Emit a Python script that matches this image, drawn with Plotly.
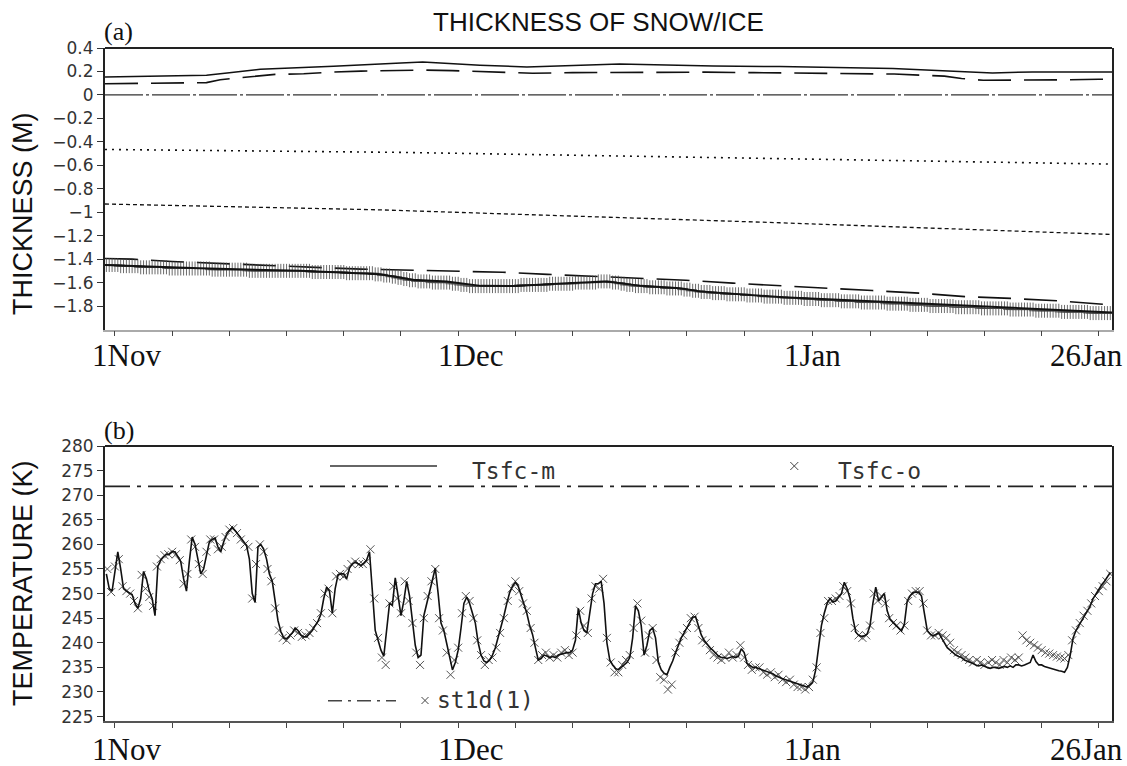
import plotly.graph_objects as go

# ---------------- data (x = days since 1 Nov) ----------------
TICK_MAJOR_DAYS = [0, 30, 61, 86]
TICK_MAJOR_TEXT = ["1Nov", "1Dec", "1Jan", "26Jan"]
TICK_MINOR_DAYS = [5, 10, 15, 20, 25, 35, 40, 45, 50, 55, 66, 71, 76, 81]
X_RANGE = [-0.87, 87.15]

TOP_YTICKS = [0.4, 0.2, 0, -0.2, -0.4, -0.6, -0.8, -1, -1.2, -1.4, -1.6, -1.8]
TOP_YTEXT = ["0.4", "0.2", "0", "\u22120.2", "\u22120.4", "\u22120.6", "\u22120.8",
             "\u22121", "\u22121.2", "\u22121.4", "\u22121.6", "\u22121.8"]
BOT_YTICKS = [225, 230, 235, 240, 245, 250, 255, 260, 265, 270, 275, 280]

# panel (a): snow / ice thickness lines
snow_m_day = [-0.87, 8.0, 10.0, 12.7, 19.1, 23.2, 25.0, 26.9, 31.9, 36.0, 44.1, 52.3, 58.1, 68.0, 71.5, 76.7, 80.2, 87.15]
snow_m_val = [0.153, 0.168, 0.19, 0.219, 0.245, 0.26, 0.272, 0.281, 0.253, 0.238, 0.264, 0.247, 0.242, 0.225, 0.21, 0.187, 0.196, 0.196]

snow_o_day = [-0.87, 3.0, 6.0, 8.0, 9.2, 12.0, 14.0, 16.5, 19.0, 21.5, 24.5, 27.0, 29.5, 32.5, 36.5, 40.0, 44.5, 48.0, 51.6, 55.8, 59.9, 64.0, 68.1, 72.5, 74.0, 75.9, 78.0, 82.2, 86.0, 87.15]
snow_o_val = [0.095, 0.097, 0.10, 0.105, 0.13, 0.16, 0.175, 0.18, 0.195, 0.203, 0.21, 0.212, 0.207, 0.197, 0.185, 0.19, 0.194, 0.193, 0.194, 0.19, 0.187, 0.184, 0.178, 0.16, 0.14, 0.125, 0.125, 0.128, 0.133, 0.133]

ice_top_day = [-0.87, 87.15]
ice_top_val = [0.0, 0.0]

dotted_day = [-0.87, 25.0, 87.15]
dotted_val = [-0.465, -0.49, -0.59]

shortdash_day = [-0.87, 23.2, 58.1, 87.15]
shortdash_val = [-0.93, -0.98, -1.09, -1.19]

bot_o_day = [-0.87, 1.5, 5.0, 9.5, 13.5, 17.5, 21.5, 25.5, 29.8, 33.9, 37.8, 41.8, 45.8, 49.9, 54.0, 58.1, 62.1, 66.2, 70.3, 74.3, 78.3, 82.4, 86.4, 87.15]
bot_o_val = [-1.395, -1.40, -1.42, -1.44, -1.455, -1.47, -1.485, -1.495, -1.50, -1.512, -1.53, -1.545, -1.565, -1.58, -1.605, -1.628, -1.65, -1.668, -1.69, -1.72, -1.735, -1.755, -1.785, -1.79]

bot_m_day = [-0.87, 7.4, 16.2, 22.0, 23.2, 26.0, 29.0, 32.0, 35.0, 39.5, 43.0, 46.0, 49.4, 51.1, 55.2, 58.4, 68.6, 77.4, 87.15]
bot_m_val = [-1.45, -1.478, -1.50, -1.52, -1.53, -1.575, -1.59, -1.628, -1.63, -1.605, -1.59, -1.628, -1.648, -1.675, -1.705, -1.725, -1.77, -1.813, -1.855]

# 6-hourly series start day
T6_START = -0.75
ice_plus = [
    -1.45, -1.45, -1.45,
    -1.45, -1.45, -1.46, -1.46,  -1.46, -1.46, -1.46, -1.46,  -1.46, -1.47, -1.47, -1.47,
    -1.47, -1.47, -1.47, -1.47,  -1.47, -1.47, -1.47, -1.48,  -1.48, -1.48, -1.48, -1.48,
    -1.48, -1.48, -1.48, -1.48,  -1.48, -1.48, -1.48, -1.48,  -1.48, -1.48, -1.49, -1.49,
    -1.49, -1.49, -1.49, -1.49,  -1.49, -1.49, -1.49, -1.49,  -1.49, -1.49, -1.49, -1.50,
    -1.50, -1.50, -1.50, -1.50,  -1.50, -1.50, -1.50, -1.50,  -1.50, -1.50, -1.50, -1.50,
    -1.50, -1.50, -1.50, -1.50,  -1.50, -1.50, -1.50, -1.50,  -1.50, -1.51, -1.51, -1.51,
    -1.51, -1.51, -1.51, -1.51,  -1.51, -1.51, -1.51, -1.51,  -1.51, -1.52, -1.52, -1.52,
    -1.52, -1.52, -1.52, -1.52,  -1.52, -1.52, -1.52, -1.53,  -1.53, -1.53, -1.54, -1.54,
    -1.54, -1.55, -1.55, -1.56,  -1.56, -1.57, -1.57, -1.58,  -1.58, -1.58, -1.59, -1.59,
    -1.59, -1.59, -1.59, -1.60,  -1.60, -1.60, -1.60, -1.60,  -1.60, -1.60, -1.61, -1.61,
    -1.61, -1.62, -1.62, -1.62,  -1.63, -1.63, -1.63, -1.63,  -1.63, -1.63, -1.63, -1.63,
    -1.63, -1.63, -1.63, -1.63,  -1.63, -1.63, -1.63, -1.63,  -1.63, -1.63, -1.62, -1.62,
    -1.62, -1.62, -1.62, -1.62,  -1.62, -1.62, -1.62, -1.62,  -1.61, -1.61, -1.61, -1.61,
    -1.61, -1.61, -1.61, -1.61,  -1.61, -1.60, -1.60, -1.60,  -1.60, -1.60, -1.60, -1.60,
    -1.60, -1.59, -1.59, -1.59,  -1.59, -1.59, -1.60, -1.60,  -1.60, -1.61, -1.61, -1.62,
    -1.62, -1.62, -1.63, -1.63,  -1.63, -1.63, -1.63, -1.64,  -1.64, -1.64, -1.64, -1.64,
    -1.64, -1.65, -1.65, -1.65,  -1.65, -1.65, -1.65, -1.66,  -1.66, -1.66, -1.67, -1.67,
    -1.67, -1.68, -1.68, -1.68,  -1.68, -1.69, -1.69, -1.69,  -1.69, -1.69, -1.70, -1.70,
    -1.70, -1.70, -1.70, -1.70,  -1.70, -1.71, -1.71, -1.71,  -1.71, -1.71, -1.71, -1.72,
    -1.72, -1.72, -1.72, -1.72,  -1.72, -1.72, -1.73, -1.73,  -1.73, -1.73, -1.73, -1.73,
    -1.73, -1.74, -1.74, -1.74,  -1.74, -1.74, -1.74, -1.75,  -1.75, -1.75, -1.75, -1.75,
    -1.75, -1.75, -1.76, -1.76,  -1.76, -1.76, -1.76, -1.76,  -1.76, -1.77, -1.77, -1.77,
    -1.77, -1.77, -1.77, -1.77,  -1.77, -1.77, -1.78, -1.78,  -1.78, -1.78, -1.78, -1.78,
    -1.78, -1.78, -1.79, -1.79,  -1.79, -1.79, -1.79, -1.79,  -1.79, -1.80, -1.80, -1.80,
    -1.80, -1.80, -1.80, -1.80,  -1.80, -1.80, -1.81, -1.81,  -1.81, -1.81, -1.81, -1.81,
    -1.81, -1.81, -1.81, -1.82,  -1.82, -1.82, -1.82, -1.82,  -1.82, -1.82, -1.82, -1.82,
    -1.82, -1.83, -1.83, -1.83,  -1.83, -1.83, -1.83, -1.83,  -1.83, -1.83, -1.84, -1.84,
    -1.84, -1.84, -1.84, -1.84,  -1.84, -1.84, -1.84, -1.85,  -1.85, -1.85, -1.85, -1.85,
    -1.85, -1.85, -1.85, -1.85,  -1.85, -1.86, -1.86, -1.86,  -1.86, -1.86, -1.86, -1.86,
    -1.86,
]

# panel (b): surface temperature, model (6-hourly)
tsfc_m = [
    254, 251, 250.5,
    254.5, 258.5, 255, 251,   250.5, 250.2, 249.8, 248,   247, 249, 254.5, 253,
    250.5, 249, 245.5, 255.5, 256.8, 257.5, 258, 258,   258.5, 258.5, 257.5, 256.5,
    253, 250.5, 256.5, 261.5, 260, 257, 254, 255,   258, 260.5, 261, 261.3,
    259.5, 258.5, 260.5, 262, 262.8, 263.5, 262.8, 262, 261.3, 260.5, 259.8, 257,
    250, 248.2, 259.5, 260,   259, 257, 254, 252.5,   248.5, 244.5, 242.3, 241,
    240.8, 241.5, 242, 243,   242.5, 241.6, 241.2, 241.2, 241.8, 242.5, 243.5, 244.4,
    245.8, 249, 251.3, 250.5, 246, 251, 253.8, 254,   254, 253, 255.2, 256,
    256.4, 256, 255.7, 256.2, 256.8, 258.5, 250.5, 242.5, 240.5, 238.5, 237.3, 243,
    248, 247.7, 253.2, 249.5, 245.5, 248.5, 252.5, 249.5, 245, 239.5, 237, 237.5,
    245.5, 248, 250.5, 253,   255.2, 250, 244, 242.5,   240, 237, 234.5, 236,
    238.5, 243, 248, 249.3,   248, 246, 244, 240,   237.5, 236.3, 236, 236.5,
    237.5, 239, 241, 243.3,   245.5, 248, 250.2, 251.5, 252.3, 251.5, 249.7, 247.5,
    246, 243.5, 241.7, 239,   236.5, 236.8, 237.5, 237.3, 237, 237.2, 237, 237.5,
    237.7, 237.8, 238, 238,   238.5, 240.5, 247, 244,   242.5, 242, 246, 250,
    252, 252, 252.5, 248,     240, 236.5, 235.5, 234.8, 234.5, 235, 235.5, 236,
    237, 241, 247.5, 246.5,   243.5, 237.5, 239.5, 242.5, 243, 241, 236, 234.5,
    233.8, 233.5, 235, 236.3, 238, 239.5, 241, 242,   243, 244.3, 245.2, 245.3,
    243.5, 241.6, 240.5, 239.7, 239, 238.5, 237.8, 237.3, 237, 237, 236.8, 237,
    237.2, 237, 237.3, 238.8, 238, 235.8, 235.3, 235,  235, 234.8, 234.5, 234.4,
    234.2, 234, 233.7, 233.3, 233, 232.8, 232.6, 232.4, 232.2, 232, 231.8, 231.6,
    231.5, 231.2, 231, 231.5, 232, 234.5, 239, 243.5,  246, 248, 249, 248.3,
    248.5, 249.2, 250, 252.3, 251, 249, 245, 242.2,   241.5, 241.3, 241.4, 241.8,
    243.5, 248, 251.3, 248.5, 249.3, 250, 246.5, 244.8, 244.2, 243.6, 243, 242.4,
    243.8, 248.5, 249.5, 250.2, 250.3, 250.3, 249.5, 245.5, 242.5, 241.8, 241.4, 241.7,
    242, 241, 240, 239,       238.5, 238, 237.5, 237.2, 237, 236.5, 236.3, 236,
    235.8, 235.5, 235.3, 235.5, 235.2, 235, 234.8, 235, 235, 234.8, 235, 235.2,
    235, 235.3, 235, 235.5,   235.5, 235.3, 235.5, 235.8, 236, 237.5, 236.2, 235.5,
    235.5, 235.2, 235, 234.8, 234.6, 234.5, 234.3, 234.2, 234, 235, 237.5, 241,
    242.5, 243.5, 244.5, 245.5, 246.5, 247.5, 249, 250, 251, 251.8, 252.5, 253.3,
    254.3,
]

# panel (b): surface temperature, observed (8-hourly)
T8_START = -2.0 / 3.0
tsfc_o = [
    255.0, 250.3,
    255.5, 257.0, 251.5,  250.5, 250.0, 248.5,  247.0, 253.8, 251.0,  249.3, 247.5, 255.5,
    257.0, 257.8, 258.0,  258.5, 258.0, 256.8,  252.0, 254.0, 261.0,  259.5, 256.0, 254.0,
    258.5, 261.0, 261.0,  259.0, 259.5, 261.5,  263.0, 263.3, 262.3,  261.0, 260.0, 259.5,
    249.0, 256.0, 260.0,  258.5, 255.0, 252.5,  247.0, 242.5, 241.0,  240.5, 241.5, 242.5,
    242.0, 241.2, 241.5,  242.0, 243.0, 244.0,  246.0, 250.0, 251.0,  246.0, 253.5, 254.0,
    253.5, 255.0, 256.0,  256.5, 256.0, 256.0,  256.5, 259.0, 249.0,  241.0, 237.0, 235.5,
    248.0, 251.5, 249.0,  246.0, 252.5, 248.5,  244.0, 238.0, 235.5,  245.0, 249.5, 252.5,
    255.0, 245.0, 242.5,  238.0, 233.5, 236.5,  239.0, 246.0, 249.5,  248.5, 245.0, 240.5,
    237.5, 235.5, 236.5,  237.0, 239.0, 242.0,  245.0, 248.5, 251.0,  252.5, 250.5, 248.0,
    246.5, 243.0, 240.0,  236.5, 237.5, 238.0,  237.0, 237.5, 237.0,  238.0, 238.5, 237.5,
    238.0, 241.5, 246.5,  243.5, 242.0, 249.0,  251.5, 251.0, 253.0,  241.0, 236.0, 234.0,
    234.0, 235.5, 236.5,  237.5, 243.0, 248.0,  244.5, 238.0, 241.5,  243.0, 236.5, 233.0,
    232.5, 230.5, 231.5,  238.0, 240.0, 241.5,  243.0, 245.0, 245.3,  243.0, 240.5, 240.0,
    238.5, 237.5, 237.0,  236.5, 237.0, 238.0,  237.0, 237.5, 239.5,  237.0, 235.5, 234.5,
    235.0, 235.0, 234.0,  233.5, 234.0, 233.0,  233.5, 232.5, 232.0,  232.5, 231.5, 231.0,
    231.0, 230.5, 231.0,  232.5, 235.0, 242.0,  245.0, 248.5, 248.5,  249.0, 249.5, 251.5,
    250.5, 248.0, 243.0,  241.5, 241.0, 241.5,  243.5, 250.0, 248.5,  249.5, 248.0, 245.0,
    244.0, 243.5, 242.5,  243.5, 248.5, 250.0,  250.5, 250.5, 248.0,  242.5, 241.5, 241.5,
    242.0, 241.5, 241.0,  240.0, 238.5, 238.0,  237.5, 237.0, 236.5,  236.0, 236.5, 236.0,
    235.5, 236.0, 236.5,  236.0, 235.5, 236.5,  236.0, 237.0, 236.5,  237.0, 241.5, 240.5,
    240.0, 239.5, 239.0,  238.5, 238.0, 237.8,  237.5, 237.2, 237.0,  236.8, 237.5, 240.5,
    242.5, 244.0, 245.5,  246.5, 248.0, 249.5,  250.5, 251.5, 252.5,  254.0,
]

st1d_day = [-0.87, 87.15]
st1d_val = [271.8, 271.8]

t6 = [T6_START + 0.25 * i for i in range(len(tsfc_m))]
t6p = [T6_START + 0.25 * i for i in range(len(ice_plus))]
t8 = [T8_START + i / 3.0 for i in range(len(tsfc_o))]

# ---------------- figure ----------------
fig = go.Figure()
BLK = "#111111"

def line(xs, ys, dash, width, color=BLK, xa="x", ya="y"):
    fig.add_trace(go.Scatter(x=xs, y=ys, mode="lines", xaxis=xa, yaxis=ya,
                             line=dict(color=color, width=width, dash=dash),
                             showlegend=False, hoverinfo="skip"))

# panel (a)
line(ice_top_day, ice_top_val, "38px,3px,3px,3px", 1.2, "#333333")
line(dotted_day, dotted_val, "2px,5px", 1.6)
line(shortdash_day, shortdash_val, "4px,3px", 1.3)
line(snow_o_day, snow_o_val, "33px,13px", 1.6)
line(snow_m_day, snow_m_val, "solid", 1.5)
line(bot_o_day, bot_o_val, "33px,13px", 1.6)
fig.add_trace(go.Scatter(x=t6p, y=ice_plus, mode="markers", xaxis="x", yaxis="y",
                         marker=dict(symbol="cross-thin", size=10,
                                     line=dict(color="rgba(70,70,70,0.8)", width=1)),
                         showlegend=False, hoverinfo="skip"))
line(bot_m_day, bot_m_val, "solid", 2.0)

# panel (b)
line(st1d_day, st1d_val, "25px,7px,4px,7px", 1.6, "#222222", "x2", "y2")
fig.add_trace(go.Scatter(x=t8, y=tsfc_o, mode="markers", xaxis="x2", yaxis="y2",
                         marker=dict(symbol="x-thin", size=8,
                                     line=dict(color="#555555", width=1)),
                         showlegend=False, hoverinfo="skip"))
line(t6, tsfc_m, "solid", 1.6, BLK, "x2", "y2")

# ---------------- axes ----------------
PL, PR, PT, PB = 105, 1112, 48, 721
W, H = 1127, 766
def px(x):
    return (x - PL) / (PR - PL)
def py(y):
    return (PB - y) / (PB - PT)

top_dom = [py(329.5), 1.0]
bot_dom = [0.0, py(446.0)]

xcommon = dict(range=X_RANGE, tickmode="array", tickvals=TICK_MAJOR_DAYS,
               ticktext=TICK_MAJOR_TEXT, showticklabels=False, ticks="outside",
               ticklen=5, tickwidth=1, tickcolor="#444444", showgrid=False,
               zeroline=False, showline=True, linewidth=1.5,
               minor=dict(tickmode="array", tickvals=TICK_MINOR_DAYS, ticks="outside",
                          ticklen=5, tickwidth=1, tickcolor="#444444", showgrid=False))
ycommon = dict(tickmode="array", ticks="outside", ticklen=6, tickwidth=1,
               tickcolor="#333333", showgrid=False, zeroline=False, showline=True,
               linecolor="#222222", linewidth=2, mirror=True,
               tickfont=dict(family="DejaVu Sans", size=17, color="#333333"))

fig.update_layout(
    width=W, height=H, paper_bgcolor="white", plot_bgcolor="white",
    margin=dict(l=PL, r=W - PR, t=PT, b=H - PB),
    xaxis=dict(domain=[0, 1], anchor="y", linecolor="#aaaaaa", **xcommon),
    yaxis=dict(domain=top_dom, anchor="x", range=[-2.0, 0.4], tickvals=TOP_YTICKS,
               ticktext=TOP_YTEXT, **ycommon),
    xaxis2=dict(domain=[0, 1], anchor="y2", linecolor="#555555", **xcommon),
    yaxis2=dict(domain=bot_dom, anchor="x2", range=[224.1, 280], tickvals=BOT_YTICKS,
                ticktext=[str(v) for v in BOT_YTICKS], **ycommon),
)

shapes = []
# top borders (dark)
for ya in ("y", "y2"):
    shapes.append(dict(type="line", xref="x domain" if ya == "y" else "x2 domain",
                       yref=ya + " domain", x0=0, x1=1, y0=1, y1=1,
                       line=dict(color="#222222", width=2)))
# legend samples in panel (b)
shapes.append(dict(type="line", xref="paper", yref="paper", x0=px(330), x1=px(437),
                   y0=py(466), y1=py(466), line=dict(color="#333333", width=1.5)))
shapes.append(dict(type="line", xref="paper", yref="paper", x0=px(328), x1=px(396),
                   y0=py(700.7), y1=py(700.7),
                   line=dict(color="#444444", width=1.6, dash="14px,6px,3px,6px")))
for cx, cy, s in ((794.3, 466, 4), (425, 700.5, 3.5)):
    shapes.append(dict(type="line", xref="paper", yref="paper", x0=px(cx - s), x1=px(cx + s),
                       y0=py(cy - s), y1=py(cy + s), line=dict(color="#444444", width=1)))
    shapes.append(dict(type="line", xref="paper", yref="paper", x0=px(cx - s), x1=px(cx + s),
                       y0=py(cy + s), y1=py(cy - s), line=dict(color="#444444", width=1)))
fig.update_layout(shapes=shapes)

ann = []
SANS = "Liberation Sans"
SERIF = "Liberation Serif"
ann.append(dict(text="THICKNESS OF SNOW/ICE", x=px(598), y=py(22), xref="paper", yref="paper",
                showarrow=False, xanchor="center", yanchor="middle",
                font=dict(family=SANS, size=26, color="#111111")))
ann.append(dict(text="THICKNESS (M)", x=px(23), y=py(214), xref="paper", yref="paper",
                showarrow=False, textangle=-90, xanchor="center", yanchor="middle",
                font=dict(family=SANS, size=27, color="#111111")))
ann.append(dict(text="TEMPERATURE (K)", x=px(23), y=py(583), xref="paper", yref="paper",
                showarrow=False, textangle=-90, xanchor="center", yanchor="middle",
                font=dict(family=SANS, size=27, color="#111111")))
ann.append(dict(text="(a)", x=px(102), y=py(31), xref="paper", yref="paper",
                showarrow=False, xanchor="left", yanchor="middle",
                font=dict(family=SERIF, size=26, color="#111111")))
ann.append(dict(text="(b)", x=px(102), y=py(430), xref="paper", yref="paper",
                showarrow=False, xanchor="left", yanchor="middle",
                font=dict(family=SERIF, size=26, color="#111111")))
# date labels
label_px = [126, 470, 812, 1086]
for yy in (355, 749):
    for txt, lx in zip(TICK_MAJOR_TEXT, label_px):
        ann.append(dict(text=txt, x=px(lx), y=py(yy), xref="paper", yref="paper",
                        showarrow=False, xanchor="center", yanchor="middle",
                        font=dict(family=SERIF, size=31, color="#111111")))
# legend texts
LEG = dict(family="DejaVu Sans Mono", size=23, color="#333333")
ann.append(dict(text="Tsfc-m", x=px(470), y=py(470.7), xref="paper", yref="paper",
                showarrow=False, xanchor="left", yanchor="middle", font=LEG))
ann.append(dict(text="Tsfc-o", x=px(836), y=py(471), xref="paper", yref="paper",
                showarrow=False, xanchor="left", yanchor="middle", font=LEG))
ann.append(dict(text="st1d(1)", x=px(435), y=py(700), xref="paper", yref="paper",
                showarrow=False, xanchor="left", yanchor="middle", font=LEG))
fig.update_layout(annotations=ann)

fig.write_html("out.html")
